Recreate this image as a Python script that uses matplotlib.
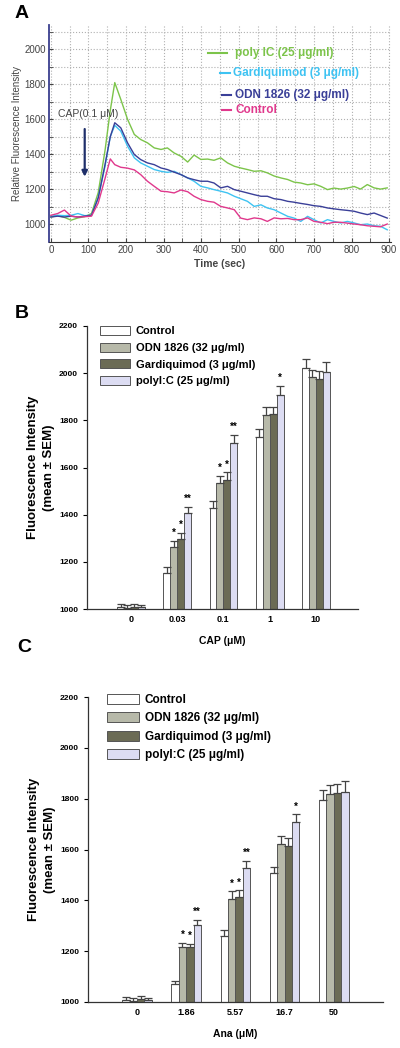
import matplotlib
matplotlib.use("Agg")
import matplotlib.pyplot as plt
import numpy as np
from matplotlib.patches import Patch
from matplotlib.lines import Line2D

plt.rcParams['font.family'] = ['Liberation Sans', 'DejaVu Sans']

# ---------------- Panel A data ----------------
time_sec = [0, 18, 36, 54, 72, 90, 108, 126, 144, 158, 170, 186, 204, 222, 239, 257, 275, 293,
            310, 328, 346, 364, 381, 399, 417, 434, 452, 470, 488, 505, 523, 541, 559, 576,
            594, 612, 630, 647, 665, 683, 700, 718, 736, 753, 771, 789, 807, 824, 842, 860,
            877, 895]
poly_ic = [1040, 1048, 1038, 1022, 1035, 1042, 1060, 1180, 1420, 1650, 1810, 1714, 1600, 1513,
           1484, 1465, 1436, 1427, 1436, 1407, 1388, 1355, 1395, 1370, 1372, 1365, 1379, 1350,
           1331, 1321, 1312, 1302, 1305, 1293, 1275, 1264, 1255, 1240, 1235, 1225, 1230, 1216,
           1197, 1206, 1200, 1206, 1215, 1200, 1226, 1207, 1200, 1207]
gardiquimod = [1045, 1050, 1048, 1050, 1060, 1048, 1050, 1150, 1330, 1500, 1565, 1532, 1446,
               1379, 1350, 1331, 1312, 1302, 1296, 1302, 1283, 1264, 1245, 1216, 1207, 1197,
               1188, 1178, 1159, 1145, 1130, 1101, 1110, 1092, 1082, 1063, 1044, 1034, 1015,
               1044, 1025, 1006, 1025, 1015, 1006, 1015, 1006, 996, 1000, 990, 987, 967]
odn1826 = [1040, 1045, 1040, 1045, 1040, 1045, 1050, 1150, 1340, 1500, 1580, 1551, 1465, 1398,
           1369, 1350, 1340, 1321, 1312, 1297, 1283, 1264, 1254, 1245, 1245, 1235, 1207, 1216,
           1197, 1188, 1178, 1168, 1159, 1159, 1145, 1140, 1130, 1125, 1118, 1112, 1105, 1101,
           1092, 1087, 1082, 1078, 1073, 1063, 1054, 1063, 1049, 1034]
control_trace = [1050, 1060, 1080, 1045, 1040, 1042, 1045, 1120, 1260, 1373, 1340, 1325, 1320,
                 1310, 1283, 1245, 1216, 1188, 1185, 1178, 1195, 1185, 1159, 1140, 1130, 1125,
                 1101, 1092, 1082, 1034, 1025, 1035, 1030, 1015, 1035, 1030, 1032, 1025, 1025,
                 1035, 1015, 1010, 1002, 1010, 1010, 1005, 1000, 996, 990, 987, 984, 1000]
trace_labels = ['poly IC (25 \u03bcg/ml)', 'Gardiquimod (3 \u03bcg/ml)',
                'ODN 1826 (32 \u03bcg/ml)', 'Control']

# ---------------- Panel B / C data ----------------
group_labels = ['Control', 'ODN 1826 (32 \u03bcg/ml)', 'Gardiquimod (3 \u03bcg/ml)',
                'polyI:C (25 \u03bcg/ml)']
cap_conc = ['0', '0.03', '0.1', '1', '10']
cap_control = [1008, 1153, 1428, 1728, 2020]
cap_odn = [1005, 1265, 1533, 1824, 1982]
cap_gardi = [1010, 1298, 1547, 1826, 1974]
cap_poly = [1007, 1406, 1703, 1907, 2006]
cap_control_err = [12, 23, 28, 36, 38]
cap_odn_err = [10, 24, 33, 34, 32]
cap_gardi_err = [12, 26, 32, 32, 37]
cap_poly_err = [10, 28, 35, 38, 42]
cap_stars_odn = ['', '*', '*', '', '']
cap_stars_gardi = ['', '*', '*', '', '']
cap_stars_poly = ['', '**', '**', '*', '']

ana_conc = ['0', '1.86', '5.57', '16.7', '50']
ana_control = [1008, 1069, 1258, 1506, 1795]
ana_odn = [1004, 1218, 1405, 1622, 1820]
ana_gardi = [1010, 1216, 1414, 1615, 1822]
ana_poly = [1007, 1303, 1527, 1708, 1825]
ana_control_err = [12, 13, 26, 26, 40]
ana_odn_err = [10, 15, 30, 33, 33]
ana_gardi_err = [14, 13, 25, 32, 36]
ana_poly_err = [10, 20, 28, 30, 43]
ana_stars_odn = ['', '*', '*', '', '']
ana_stars_gardi = ['', '*', '*', '', '']
ana_stars_poly = ['', '**', '**', '*', '']

# ---------------- figure ----------------
W, H = 400, 1048
fig = plt.figure(figsize=(W / 100, H / 100), dpi=100)


def px_axes(l, t, r, b):
    return fig.add_axes([l / W, 1 - b / H, (r - l) / W, (b - t) / H])


# ---------------- Panel A ----------------
axA = px_axes(49, 25, 391, 242)
line_colors = ['#7cc44a', '#3ec3f2', '#3a3f98', '#e0388c']
for ys, c in zip([poly_ic, gardiquimod, odn1826, control_trace], line_colors):
    axA.plot(time_sec, ys, color=c, lw=1.0)
axA.set_xlim(-5, 905)
axA.set_ylim(897, 2140)
axA.set_xticks(np.arange(0, 901, 100))
axA.set_xticks(np.arange(50, 901, 100), minor=True)
axA.set_yticks(np.arange(1000, 2001, 200))
axA.set_yticks(np.arange(1100, 2101, 200), minor=True)
axA.grid(True, which='both', ls=':', color='#b0b0b0', lw=0.8)
for s in ['top', 'right']:
    axA.spines[s].set_visible(False)
axA.spines['left'].set_color('#3a3f8f')
axA.spines['left'].set_linewidth(1.3)
axA.spines['bottom'].set_color('#333333')
axA.tick_params(which='both', direction='in', length=3, labelsize=7, colors='#444444',
                pad=2)
axA.set_xlabel('Time (sec)', fontsize=7.5, fontweight='bold', color='#444444', labelpad=3)
axA.set_ylabel('Relative Fluorescence Intensity', fontsize=7, color='#444444', labelpad=2)
axA.annotate('', xy=(90, 1255), xytext=(90, 1560),
             arrowprops=dict(arrowstyle='-|>', color='#1f2f6a', lw=1.6, mutation_scale=8))
axA.text(100, 1630, 'CAP(0.1 \u03bcM)', fontsize=7.5, color='#444444', ha='center',
         va='center')
leg_rows = [(53, 208, 227, 235), (73, 220, 230, 233), (95, 222, 231, 235), (110, 222, 231, 235)]
for (yy, x0, x1, xt), lab, c in zip(leg_rows, trace_labels, line_colors):
    axA.add_line(Line2D([x0 / W, x1 / W], [1 - yy / H, 1 - yy / H], color=c, lw=1.5,
                        transform=fig.transFigure, clip_on=False))
    fig.text(xt / W, 1 - yy / H, lab, color=c, fontsize=8.5, fontweight='bold', va='center')
fig.text(15 / W, 1 - 14 / H, 'A', fontsize=14, fontweight='bold', va='center')

# ---------------- bar panels ----------------
bar_colors = ['#ffffff', '#b7b9a9', '#6b6b55', '#dcdcf2']
bar_w = 0.15


def bar_panel(ax, conc, vals, errs, stars, xlabel, xlim, leg_anchor, leg_fs, leg_sp):
    x = np.arange(len(conc))
    for i, (v, e, c) in enumerate(zip(vals, errs, bar_colors)):
        pos = x + (i - 1.5) * bar_w
        ax.bar(pos, np.array(v) - 1000, bottom=1000, width=bar_w, color=c,
               edgecolor='#555555', lw=0.7, label=group_labels[i], zorder=2)
        ax.errorbar(pos, v, yerr=[np.zeros(len(e)), e], fmt='none', ecolor='#444444',
                    elinewidth=0.9, capsize=3, capthick=0.9, zorder=3)
    for i, st in zip([1, 2, 3], stars):
        for j, s in enumerate(st):
            if s:
                ax.text(x[j] + (i - 1.5) * bar_w, vals[i][j] + errs[i][j] + 12, s,
                        ha='center', va='bottom', fontsize=7, fontweight='bold')
    ax.set_xlim(*xlim)
    ax.set_ylim(1000, 2200)
    ax.set_yticks(np.arange(1000, 2201, 200))
    ax.set_xticks(x)
    ax.set_xticklabels(conc)
    for s in ['top', 'right']:
        ax.spines[s].set_visible(False)
    for s in ['left', 'bottom']:
        ax.spines[s].set_color('#333333')
        ax.spines[s].set_linewidth(0.9)
    ax.tick_params(axis='y', direction='out', length=3, labelsize=6)
    ax.tick_params(axis='x', length=0, labelsize=6.5, pad=4)
    for lab in ax.get_xticklabels() + ax.get_yticklabels():
        lab.set_fontweight('bold')
    ax.set_xlabel(xlabel, fontsize=7.5, fontweight='bold', labelpad=9)
    ax.set_ylabel('Fluorescence Intensity\n(mean \u00b1 SEM)', fontsize=9.5,
                  fontweight='bold', linespacing=1.4, labelpad=3)
    handles = [Patch(facecolor=c, edgecolor='#555555', lw=0.7) for c in bar_colors]
    ax.legend(handles, group_labels, loc='upper left', bbox_to_anchor=leg_anchor,
              frameon=False, handlelength=2.7, handleheight=0.9, handletextpad=0.5,
              labelspacing=leg_sp, borderaxespad=0, borderpad=0,
              prop={'weight': 'bold', 'size': leg_fs})


axB = px_axes(87, 326, 358, 609)
bar_panel(axB, cap_conc,
          [cap_control, cap_odn, cap_gardi, cap_poly],
          [cap_control_err, cap_odn_err, cap_gardi_err, cap_poly_err],
          [cap_stars_odn, cap_stars_gardi, cap_stars_poly],
          'CAP (\u03bcM)', (-0.95, 4.91), ((100 - 87) / 271, 1.0), 8, 0.55)
fig.text(15 / W, 1 - 313 / H, 'B', fontsize=14, fontweight='bold', va='center')

axC = px_axes(88, 697, 383, 1002)
bar_panel(axC, ana_conc,
          [ana_control, ana_odn, ana_gardi, ana_poly],
          [ana_control_err, ana_odn_err, ana_gardi_err, ana_poly_err],
          [ana_stars_odn, ana_stars_gardi, ana_stars_poly],
          'Ana (\u03bcM)', (-0.995, 5.0), ((107 - 88) / 295, 1.01), 8.5, 0.55)
fig.text(17 / W, 1 - 648 / H, 'C', fontsize=14, fontweight='bold', va='center')

fig.savefig('out.png', dpi=100)
